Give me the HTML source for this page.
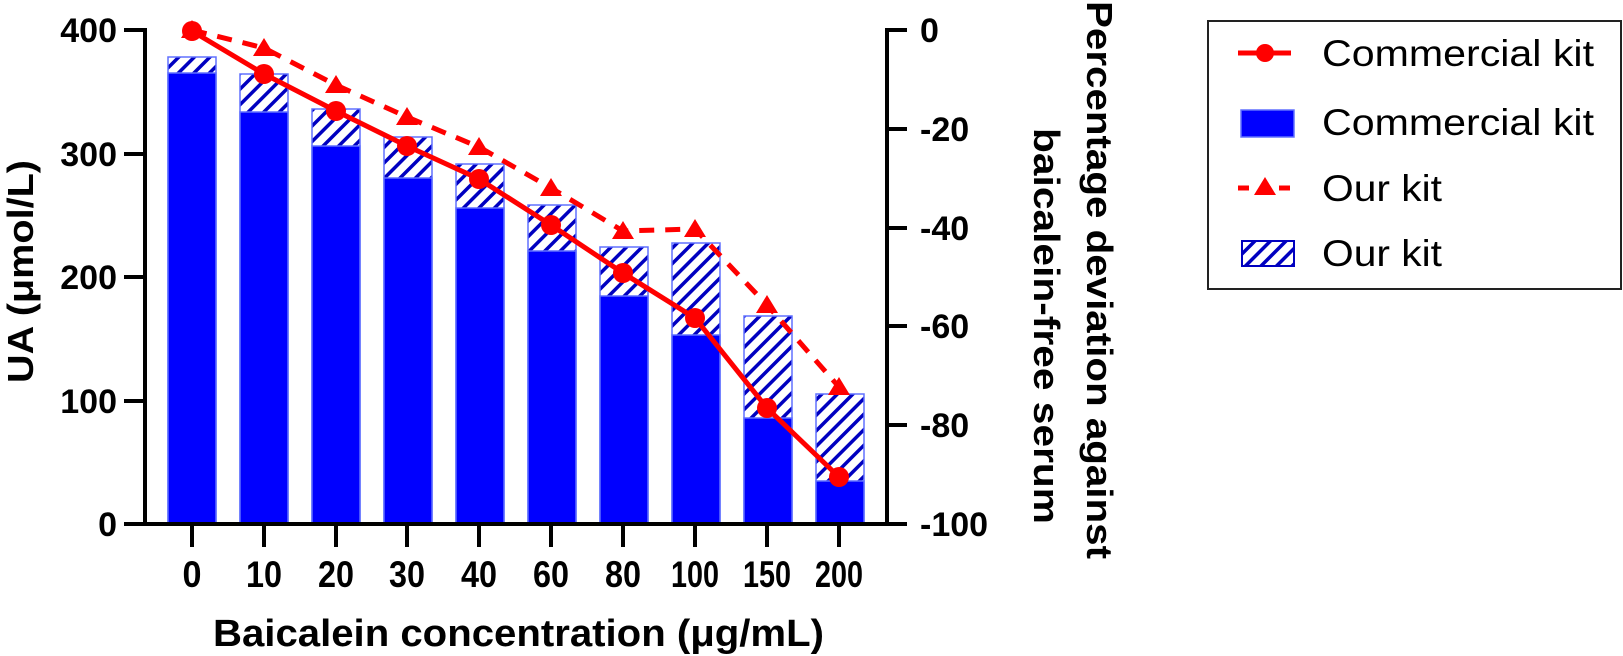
<!DOCTYPE html>
<html><head><meta charset="utf-8"><style>html,body{margin:0;padding:0;background:#fff}svg{display:block}</style></head>
<body>
<svg width="1623" height="656" viewBox="0 0 1623 656" xmlns="http://www.w3.org/2000/svg" font-family="Liberation Sans, Arial, sans-serif">
<defs>
<pattern id="h" patternUnits="userSpaceOnUse" width="11" height="11" patternTransform="rotate(45)">
<rect width="11" height="11" fill="#fff"/>
<rect x="0" y="0" width="3.5" height="11" fill="#0000c0"/>
</pattern>
</defs>
<g id="bars" stroke="#6070ff" stroke-width="1.5">
<rect x="168" y="57" width="48" height="467" fill="url(#h)"/><rect x="168" y="73" width="48" height="451" fill="#0000ff"/>
<rect x="240" y="74" width="48" height="450" fill="url(#h)"/><rect x="240" y="112" width="48" height="412" fill="#0000ff"/>
<rect x="312" y="109" width="48" height="415" fill="url(#h)"/><rect x="312" y="146" width="48" height="378" fill="#0000ff"/>
<rect x="384" y="137" width="48" height="387" fill="url(#h)"/><rect x="384" y="178" width="48" height="346" fill="#0000ff"/>
<rect x="456" y="164" width="48" height="360" fill="url(#h)"/><rect x="456" y="208" width="48" height="316" fill="#0000ff"/>
<rect x="528" y="205" width="48" height="319" fill="url(#h)"/><rect x="528" y="251" width="48" height="273" fill="#0000ff"/>
<rect x="600" y="247" width="48" height="277" fill="url(#h)"/><rect x="600" y="296" width="48" height="228" fill="#0000ff"/>
<rect x="672" y="243" width="48" height="281" fill="url(#h)"/><rect x="672" y="335" width="48" height="189" fill="#0000ff"/>
<rect x="744" y="316" width="48" height="208" fill="url(#h)"/><rect x="744" y="418" width="48" height="106" fill="#0000ff"/>
<rect x="816" y="394" width="48" height="130" fill="url(#h)"/><rect x="816" y="481" width="48" height="43" fill="#0000ff"/>
</g>
<polyline points="192,30 264,48 336,85 407,117 479,147 551,188 623,231 695,229 767,305 839,387" fill="none" stroke="#ff0000" stroke-width="5" stroke-dasharray="15,11"/>
<g fill="#ff0000">
<path d="M192,20 l11,18 h-22z"/><path d="M264,38 l11,18 h-22z"/><path d="M336,75 l11,18 h-22z"/><path d="M407,107 l11,18 h-22z"/><path d="M479,137 l11,18 h-22z"/><path d="M551,178 l11,18 h-22z"/><path d="M623,221 l11,18 h-22z"/><path d="M695,219 l11,18 h-22z"/><path d="M767,295 l11,18 h-22z"/><path d="M839,377 l11,18 h-22z"/>
</g>
<polyline points="192,31 264,74 336,111 407,146 479,179 551,225 623,273 695,318 767,408 839,477" fill="none" stroke="#ff0000" stroke-width="5"/>
<g fill="#ff0000">
<circle cx="192" cy="31" r="10"/><circle cx="264" cy="74" r="10"/><circle cx="336" cy="111" r="10"/><circle cx="407" cy="146" r="10"/><circle cx="479" cy="179" r="10"/><circle cx="551" cy="225" r="10"/><circle cx="623" cy="273" r="10"/><circle cx="695" cy="318" r="10"/><circle cx="767" cy="408" r="10"/><circle cx="839" cy="477" r="10"/>
</g>
<g stroke="#000" stroke-width="4" fill="none">
<path d="M124,30 H145 V524 H887 V30 H907"/>
<path d="M124,154 H145 M124,277 H145 M124,401 H145 M124,524 H145"/>
<path d="M887,129 H907 M887,228 H907 M887,326 H907 M887,425 H907 M887,524 H907"/>
<path d="M192,524 V547 M264,524 V547 M336,524 V547 M407,524 V547 M479,524 V547 M551,524 V547 M623,524 V547 M695,524 V547 M767,524 V547 M839,524 V547"/>
</g>
<g font-weight="bold" font-size="34" text-anchor="end">
<text x="117" y="42">400</text><text x="117" y="166">300</text><text x="117" y="289">200</text><text x="117" y="413">100</text><text x="117" y="536">0</text>
</g>
<g font-weight="bold" font-size="34">
<text x="920" y="42">0</text><text x="920" y="141">-20</text><text x="920" y="240">-40</text><text x="920" y="338">-60</text><text x="920" y="437">-80</text><text x="920" y="536">-100</text>
</g>
<g font-weight="bold" font-size="37" text-anchor="middle">
<text x="192" y="587" textLength="19" lengthAdjust="spacingAndGlyphs">0</text>
<text x="264" y="587" textLength="36" lengthAdjust="spacingAndGlyphs">10</text>
<text x="336" y="587" textLength="36" lengthAdjust="spacingAndGlyphs">20</text>
<text x="407" y="587" textLength="36" lengthAdjust="spacingAndGlyphs">30</text>
<text x="479" y="587" textLength="36" lengthAdjust="spacingAndGlyphs">40</text>
<text x="551" y="587" textLength="36" lengthAdjust="spacingAndGlyphs">60</text>
<text x="623" y="587" textLength="36" lengthAdjust="spacingAndGlyphs">80</text>
<text x="695" y="587" textLength="48" lengthAdjust="spacingAndGlyphs">100</text>
<text x="767" y="587" textLength="48" lengthAdjust="spacingAndGlyphs">150</text>
<text x="839" y="587" textLength="48" lengthAdjust="spacingAndGlyphs">200</text>
</g>
<text x="213" y="646" font-weight="bold" font-size="38" textLength="611" lengthAdjust="spacingAndGlyphs">Baicalein concentration (μg/mL)</text>
<text transform="translate(33,383) rotate(-90)" font-weight="bold" font-size="36" textLength="223" lengthAdjust="spacingAndGlyphs">UA (μmol/L)</text>
<text transform="translate(1087,1) rotate(90)" font-weight="bold" font-size="36" textLength="558" lengthAdjust="spacingAndGlyphs">Percentage deviation against</text>
<text transform="translate(1034,128) rotate(90)" font-weight="bold" font-size="36" textLength="396" lengthAdjust="spacingAndGlyphs">baicalein-free serum</text>
<rect x="1208" y="21" width="413" height="268" fill="#fff" stroke="#222" stroke-width="2"/>
<line x1="1238" y1="53" x2="1291" y2="53" stroke="#ff0000" stroke-width="5"/><circle cx="1265" cy="53" r="9" fill="#ff0000"/>
<rect x="1241" y="110" width="53" height="27" fill="#0000ff" stroke="#6070ff" stroke-width="1.5"/>
<line x1="1238" y1="188" x2="1291" y2="188" stroke="#ff0000" stroke-width="5" stroke-dasharray="11,30"/><path d="M1265,177 l11,18 h-22z" fill="#ff0000"/>
<rect x="1242" y="241" width="52" height="25" fill="url(#h)" stroke="#0000c0" stroke-width="2"/>
<g font-size="37">
<text x="1322" y="66" textLength="272" lengthAdjust="spacingAndGlyphs">Commercial kit</text>
<text x="1322" y="135" textLength="272" lengthAdjust="spacingAndGlyphs">Commercial kit</text>
<text x="1322" y="201" textLength="120" lengthAdjust="spacingAndGlyphs">Our kit</text>
<text x="1322" y="266" textLength="120" lengthAdjust="spacingAndGlyphs">Our kit</text>
</g>
</svg>
</body></html>
